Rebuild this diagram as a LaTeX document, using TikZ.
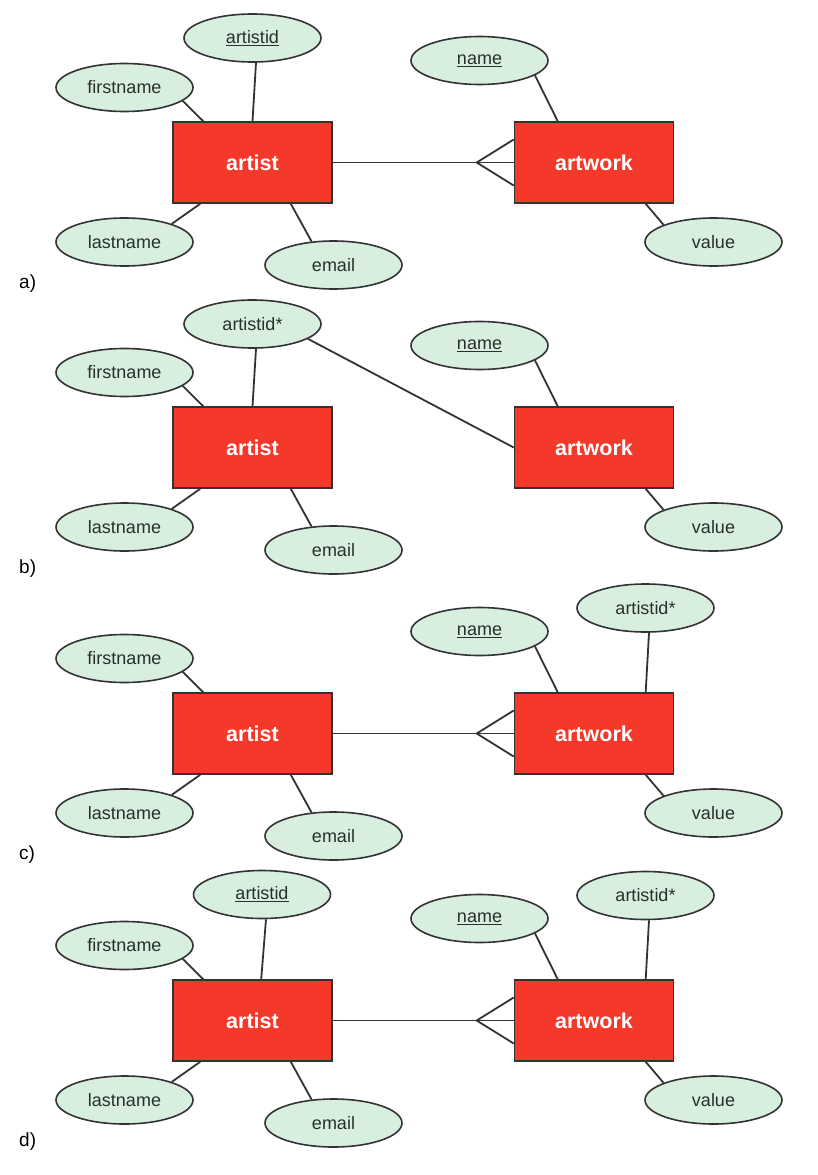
\documentclass[tikz,border=0pt]{standalone}
\usepackage{fontspec}
\setmainfont{Liberation Sans}
\usetikzlibrary{shapes.geometric,calc}
\definecolor{entred}{HTML}{F4392A}
\definecolor{attgreen}{HTML}{D8EEDF}
\definecolor{linegray}{HTML}{333333}
\definecolor{txtcol}{HTML}{27302B}
\tikzset{
  entity/.style={draw=linegray, line width=1.6pt, fill=entred, minimum width=159pt, minimum height=81pt, inner sep=0pt, text=white, font=\fontsize{21.5}{25}\selectfont\bfseries},
  attr/.style={ellipse, draw=linegray, line width=1.6pt, fill=attgreen, minimum width=137pt, minimum height=48pt, inner sep=0pt, text=txtcol, font=\fontsize{18}{21}\selectfont},
  conn/.style={draw=linegray, line width=1.8pt},
  plabel/.style={anchor=west, inner sep=0pt, font=\fontsize{19}{22}\selectfont}
}
\newcommand{\basepanel}[3]{%
  \node[entity] (artist#1) at (252.5,#2) {artist};
  \node[entity] (artwork#1) at (594,#2) {artwork};
  \node[attr] (fn#1) at (124.5,#2-75) {firstname};
  \node[attr] (ln#1) at (124.5,#2+79.5) {lastname};
  \node[attr] (em#1) at (333.5,#2+102.5) {email};
  \node[attr] (nm#1) at (479.5,#2-102) {\underline{name}};
  \node[attr] (val#1) at (713.5,#2+79.5) {value};
  \node[plabel] (lab#1) at (19,#2+121) {#3};
  \draw[conn] (fn#1.-13) -- ([xshift=31pt]artist#1.north west);
  \draw[conn] (ln#1.21) -- ([xshift=28pt]artist#1.south west);
  \draw[conn] (em#1.133) -- ([xshift=-42pt]artist#1.south east);
  \draw[conn] (nm#1.-15) -- ([xshift=44pt]artwork#1.north west);
  \draw[conn] (val#1.161) -- ([xshift=132pt]artwork#1.south west);
}
\newcommand{\relpanel}[1]{%
  \coordinate (cf#1) at ($(artwork#1.west)+(-37,0)$);
  \draw[conn] (artist#1.east) -- (artwork#1.west);
  \draw[conn] ([yshift=23pt]artwork#1.west) -- (cf#1) -- ([yshift=-23pt]artwork#1.west);
}
\begin{document}
\begin{tikzpicture}[x=1pt,y=-1pt]
\useasboundingbox (0,0) rectangle (818,1175);
% panel a
\basepanel{A}{162.5}{a)}
\relpanel{A}
\node[attr] (aidA) at (252.5,38) {\underline{artistid}};
\draw[conn] ([xshift=3.5pt]aidA.south) -- (artistA.north);
% panel b
\basepanel{B}{447.5}{b)}
\node[attr] (aidB) at (252.5,324) {artistid*};
\draw[conn] ([xshift=3.5pt]aidB.south) -- (artistB.north);
\draw[conn] (aidB.-15) -- (artworkB.west);
% panel c
\basepanel{C}{733.5}{c)}
\relpanel{C}
\node[attr] (fkC) at (645.5,608) {artistid*};
\draw[conn] ([xshift=3.5pt]fkC.south) -- ([xshift=132pt]artworkC.north west);
% panel d
\basepanel{D}{1020.5}{d)}
\relpanel{D}
\node[attr] (aidD) at (262,894.5) {\underline{artistid}};
\draw[conn] ([xshift=4pt]aidD.south) -- ([xshift=89pt]artistD.north west);
\node[attr] (fkD) at (645.5,895.5) {artistid*};
\draw[conn] ([xshift=3.5pt]fkD.south) -- ([xshift=132pt]artworkD.north west);
\end{tikzpicture}
\end{document}
